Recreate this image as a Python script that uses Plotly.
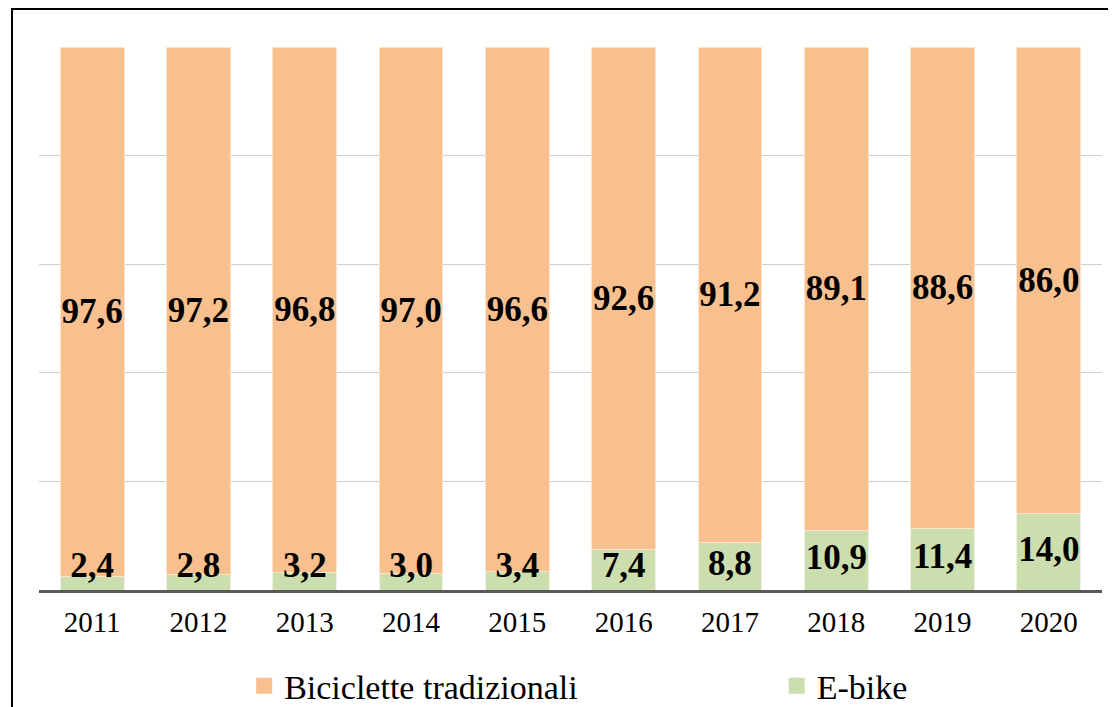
import plotly.graph_objects as go

years = ["2011", "2012", "2013", "2014", "2015", "2016", "2017", "2018", "2019", "2020"]
ebike = [2.4, 2.8, 3.2, 3.0, 3.4, 7.4, 8.8, 10.9, 11.4, 14.0]
tradizionali = [97.6, 97.2, 96.8, 97.0, 96.6, 92.6, 91.2, 89.1, 88.6, 86.0]

orange = "#F9C08F"
green = "#CCDDAE"
serif = "Liberation Serif"

def fmt(v):
    return f"{v:.1f}".replace(".", ",")

fig = go.Figure()

fig.add_trace(go.Bar(
    x=years, y=ebike, name="E-bike",
    marker=dict(color=green, line=dict(color="#EEF4E4", width=1)),
    showlegend=False, hoverinfo="x+y",
))
fig.add_trace(go.Bar(
    x=years, y=tradizionali, name="Biciclette tradizionali",
    marker=dict(color=orange, line=dict(color="#FDE3CC", width=1)),
    text=[fmt(v) for v in tradizionali], textposition="inside", textangle=0,
    insidetextanchor="middle", constraintext="none",
    textfont=dict(family=serif, size=35, color="black", weight="bold"),
    showlegend=False, hoverinfo="x+y",
))

# e-bike labels: centred in the segment, but kept off the axis line for short bars
fig.add_trace(go.Scatter(
    x=years, y=[max(v / 2, 4.0) for v in ebike],
    mode="text", text=[fmt(v) for v in ebike],
    textfont=dict(family=serif, size=35, color="black", weight="bold"),
    showlegend=False, hoverinfo="skip",
))

# legend entries with bigger squares, each in its own legend box
fig.add_trace(go.Scatter(
    x=[None], y=[None], mode="markers", name="Biciclette tradizionali",
    marker=dict(symbol="square", size=16, color=orange), legend="legend",
))
fig.add_trace(go.Scatter(
    x=[None], y=[None], mode="markers", name="E-bike",
    marker=dict(symbol="square", size=16, color=green), legend="legend2",
))

leg = dict(orientation="h", xanchor="left", y=-0.177, yanchor="middle",
           font=dict(family=serif, size=34), itemsizing="trace",
           bgcolor="rgba(0,0,0,0)")

# page body adds an 8px margin, so the figure is 8px smaller each way
fig.update_layout(
    width=1108, height=699,
    barmode="stack", bargap=0.4,
    plot_bgcolor="white", paper_bgcolor="white",
    margin=dict(l=31, r=14, t=39, b=117, autoexpand=False),
    font=dict(family=serif, color="black"),
    legend=dict(leg, x=0.193),
    legend2=dict(leg, x=0.694),
    shapes=[dict(
        type="rect", xref="paper", yref="paper",
        x0=-0.0254, x1=1.05, y0=-0.4, y1=1.07,
        line=dict(color="black", width=2), fillcolor="rgba(0,0,0,0)",
        layer="above",
    )],
)

fig.update_xaxes(
    showgrid=False, showline=True, linecolor="#595959", linewidth=3,
    ticks="", ticklabelstandoff=4,
    tickfont=dict(family=serif, size=29, color="black"),
)
fig.update_yaxes(
    range=[0, 100], dtick=20, showgrid=True, gridcolor="#CFCFCF", gridwidth=1,
    showticklabels=False, zeroline=False,
)

fig.write_html("out.html")
